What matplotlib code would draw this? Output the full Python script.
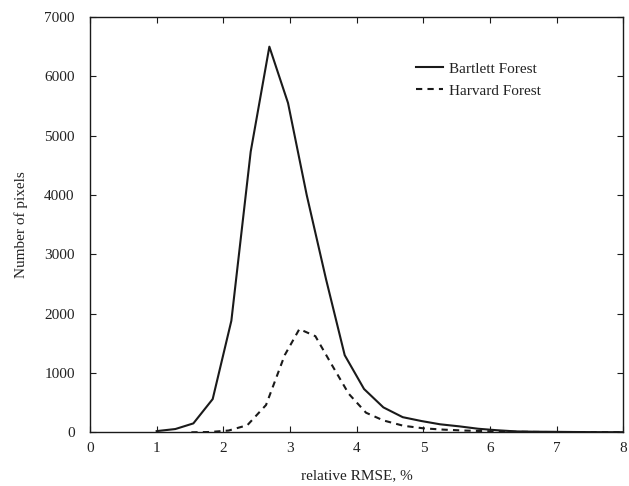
import numpy as np
import matplotlib
matplotlib.use("Agg")
import matplotlib.pyplot as plt

# relative RMSE (%) histograms
bartlett_x = [1.0, 1.28, 1.55, 1.84, 2.12, 2.41, 2.69, 2.97, 3.25, 3.54, 3.82,
              4.11, 4.40, 4.69, 4.97, 5.25, 5.54, 5.82, 6.10, 6.39, 6.67, 6.95,
              7.24, 7.52, 7.80, 8.0]
bartlett_y = [20, 55, 150, 560, 1880, 4730, 6500, 5550, 4000, 2580, 1300,
              730, 420, 255, 190, 135, 100, 60, 35, 15, 10, 8, 5, 3, 2, 2]

harvard_x = [1.52, 1.80, 2.08, 2.36, 2.64, 2.92, 3.14, 3.38, 3.62, 3.88, 4.14,
             4.40, 4.70, 5.00, 5.30, 5.60, 5.90, 6.20, 6.50, 6.80, 7.10, 7.50, 8.0]
harvard_y = [0, 5, 30, 120, 460, 1300, 1740, 1620, 1150, 650, 330,
             200, 110, 67, 45, 30, 20, 12, 8, 5, 3, 2, 1]

plt.rcParams['font.family'] = ['Liberation Serif', 'DejaVu Serif']
plt.rcParams['font.size'] = 11

fig = plt.figure(figsize=(6.29, 4.86), dpi=100)
ax = fig.add_axes([0.1431, 0.1105, 0.848, 0.8545])

col = '#1a1a1a'
ax.plot(bartlett_x, bartlett_y, color=col, lw=1.5, label='Bartlett Forest')
ax.plot(harvard_x, harvard_y, color=col, lw=1.5, linestyle=(0, (3, 2.5)),
        label='Harvard Forest')

ax.set_xlim(0, 8)
ax.set_ylim(0, 7000)
ax.set_xticks(np.arange(0, 9, 1))
ax.set_yticks(np.arange(0, 7001, 1000))
ax.tick_params(direction='in', length=4, width=0.8, top=True, right=True,
               colors=col, labelcolor='#222222')
ax.tick_params(axis='y', pad=11)
ax.tick_params(axis='x', pad=7)
for s in ax.spines.values():
    s.set_linewidth(1.0)
    s.set_color(col)

ax.set_xlabel('relative RMSE, %', color='#222222', labelpad=10)
ax.set_ylabel('Number of pixels', color='#222222', labelpad=12)

leg = ax.legend(loc='upper left', bbox_to_anchor=(0.585, 0.925), frameon=False,
                handlelength=1.8, handletextpad=0.35, labelspacing=0.55)
for t in leg.get_texts():
    t.set_color('#222222')

fig.savefig('out.png', dpi=100)
